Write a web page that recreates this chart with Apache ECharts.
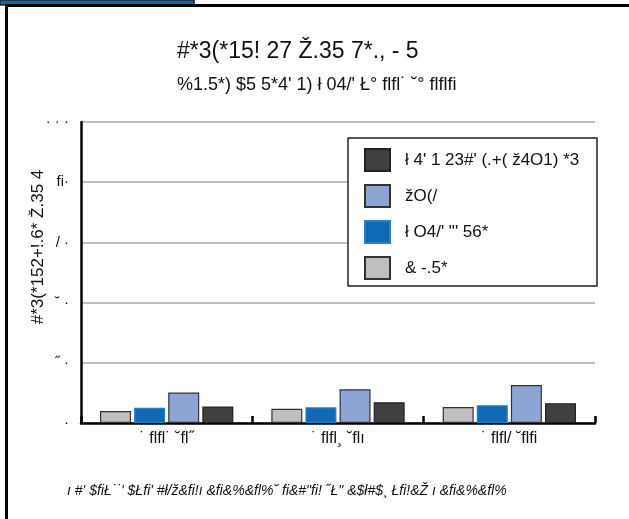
<!DOCTYPE html>
<html><head><meta charset="utf-8">
<script src="https://cdn.jsdelivr.net/npm/echarts@6/dist/echarts.min.js"></script>
<style>html,body{margin:0;padding:0;background:#fff}#c{width:629px;height:519px}</style>
</head><body><div id="c"></div>
<script>
const titleText = "#*3(*15! 27 Ž.35 7*., - 5";
const subtitleText = "%1.5*) $5 5*4' 1) ł 04/' Ł° ﬂﬂ˙ ˘° ﬂﬂﬁ";
const yAxisName = "#*3(*152+!.6* Ž.35 4";
const footerText = "ı #' $ﬁŁ˙˙' $Łﬁ' #ł/ž&ﬁ!ı &ﬁ&%&ﬂ%˘ ﬁ&#\"ﬁ! ˝Ł\" &$ł#$¸ Łﬁ!&Ž ı &ﬁ&%&ﬂ%";
const categories = ["˙ ﬂﬂ˙ ˘ﬂ˝", "˙ ﬂﬂ¸ ˘ﬂı", "˙ ﬂﬂ/ ˘ﬂﬁ"];
const yTickLabels = ["·", "˝ ·", "˘ ·", "/ ·", "ﬁ·", "· · ·"];
const seriesNames = ["& -.5*", "ł O4/' \"' 56*", "žO(/", "ł 4' 1 23#' (.+( ž4O1) *3"];
const grayVals = [4.0, 4.7, 5.3];
const blueVals = [5.1, 5.2, 5.9];
const lightVals = [10.1, 11.2, 12.6];
const darkVals = [5.5, 6.9, 6.6];
const colors = ["#bfbfbf", "#0f69b4", "#8da5d5", "#404040"];
const borders = ["#333333", "#2a7fc4", "#333333", "#222222"];
const allVals = [grayVals, blueVals, lightVals, darkVals];

const font = "Liberation Sans";
const chart = echarts.init(document.getElementById('c'));
chart.setOption({
  animation: false,
  textStyle: { fontFamily: font },
  title: [
    { text: titleText, left: 172, top: 35, textStyle: { fontSize: 23, fontWeight: 'normal', color: '#111', fontFamily: font } },
    { text: subtitleText, left: 172, top: 71, textStyle: { fontSize: 18, fontWeight: 'normal', color: '#111', fontFamily: font } },
    { text: footerText, left: 62, top: 479, textStyle: { fontSize: 14, fontStyle: 'italic', fontWeight: 'normal', color: '#111', fontFamily: font } }
  ],
  grid: { left: 81, right: 34, top: 122, bottom: 96, containLabel: false },
  legend: {
    orient: 'vertical', left: 364, top: 148, padding: 0, z: 20,
    itemWidth: 25, itemHeight: 22, itemGap: 12,
    icon: 'rect',
    data: seriesNames.slice().reverse(),
    textStyle: { fontSize: 17, color: '#111', fontFamily: font, padding: [0, 0, 0, 10] }
  },
  xAxis: {
    type: 'category', data: categories,
    axisLine: { lineStyle: { color: '#000', width: 2.5 } },
    axisTick: { show: true, inside: true, length: 7, lineStyle: { color: '#000', width: 2.5 } },
    axisLabel: { fontSize: 16, color: '#111', margin: 8, fontFamily: font }
  },
  yAxis: {
    type: 'value', min: 0, max: 100, interval: 20,
    axisLine: { show: true, lineStyle: { color: '#000', width: 2.5 } },
    axisTick: { show: false },
    axisLabel: { fontSize: 15, color: '#111', margin: 12, fontFamily: font,
      formatter: (v) => yTickLabels[Math.round(v / 20)] },
    splitLine: { lineStyle: { color: '#aaaaaa', width: 1.5 } }
  },
  series: seriesNames.map((n, i) => ({
    name: n, type: 'bar', data: allVals[i], barWidth: 31, barGap: '10%',
    itemStyle: { color: colors[i], borderColor: borders[i], borderWidth: 1.2 }
  })),
  graphic: [
    { type: 'rect', shape: { x: 0, y: 0, width: 194, height: 5 }, style: { fill: '#1466b2', stroke: '#222', lineWidth: 1.5 }, z: 10 },
    { type: 'line', shape: { x1: 5, y1: 5.5, x2: 629, y2: 5.5 }, style: { stroke: '#000', lineWidth: 3 }, z: 11 },
    { type: 'line', shape: { x1: 6.5, y1: 4, x2: 6.5, y2: 519 }, style: { stroke: '#000', lineWidth: 3 }, z: 11 },
    { type: 'rect', shape: { x: 348, y: 138, width: 249, height: 148 }, style: { fill: '#fff', stroke: '#222', lineWidth: 1.5 }, z: 3 },
    { type: 'text', x: 38, y: 247, rotation: Math.PI / 2, style: { text: yAxisName, font: '17px "Liberation Sans"', fill: '#111', align: 'center', verticalAlign: 'middle' }, z: 5 }
  ]
});
</script></body></html>
